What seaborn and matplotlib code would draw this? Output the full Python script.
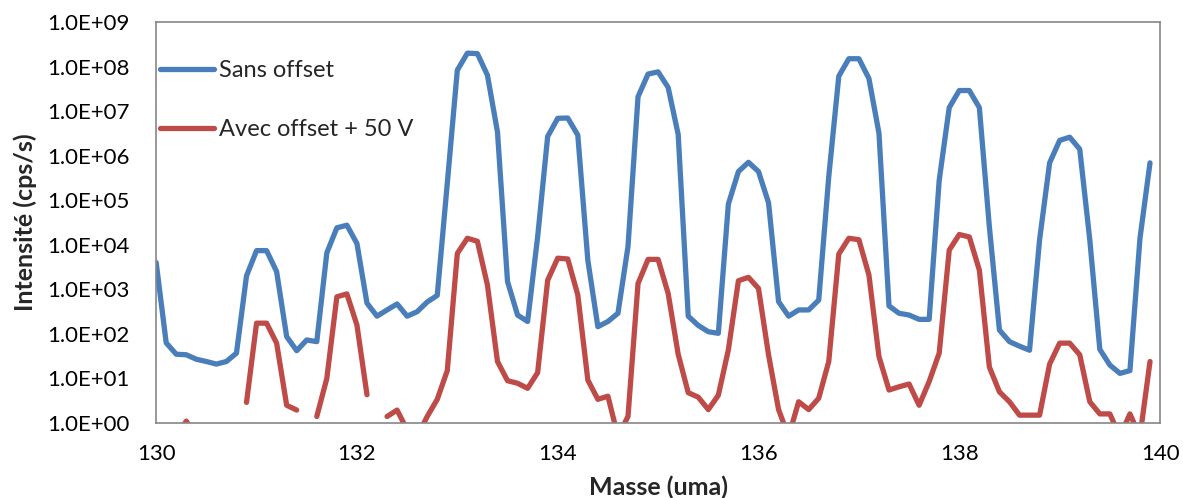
import numpy as np
import pandas as pd
import seaborn as sns
import matplotlib
matplotlib.use('Agg')
import matplotlib.pyplot as plt
from matplotlib.ticker import FuncFormatter, NullLocator

# masses (uma), pas de 0.1
masse = [130.0, 130.1, 130.2, 130.3, 130.4, 130.5, 130.6, 130.7, 130.8, 130.9,
         131.0, 131.1, 131.2, 131.3, 131.4, 131.5, 131.6, 131.7, 131.8, 131.9,
         132.0, 132.1, 132.2, 132.3, 132.4, 132.5, 132.6, 132.7, 132.8, 132.9,
         133.0, 133.1, 133.2, 133.3, 133.4, 133.5, 133.6, 133.7, 133.8, 133.9,
         134.0, 134.1, 134.2, 134.3, 134.4, 134.5, 134.6, 134.7, 134.8, 134.9,
         135.0, 135.1, 135.2, 135.3, 135.4, 135.5, 135.6, 135.7, 135.8, 135.9,
         136.0, 136.1, 136.2, 136.3, 136.4, 136.5, 136.6, 136.7, 136.8, 136.9,
         137.0, 137.1, 137.2, 137.3, 137.4, 137.5, 137.6, 137.7, 137.8, 137.9,
         138.0, 138.1, 138.2, 138.3, 138.4, 138.5, 138.6, 138.7, 138.8, 138.9,
         139.0, 139.1, 139.2, 139.3, 139.4, 139.5, 139.6, 139.7, 139.8, 139.9]

# intensite sans offset (cps/s)
sans_offset = [4.0e3, 63, 35, 34, 27, 24, 21, 24, 37, 2.0e3,
               7.4e3, 7.4e3, 2.5e3, 87, 42, 73, 67, 6.6e3, 2.4e4, 2.75e4,
               1.07e4, 490, 250, 345, 470, 250, 315, 520, 730, 2.4e5,
               8.3e7, 2.0e8, 1.95e8, 6.4e7, 3.4e6, 1.5e3, 265, 190, 1.5e4, 2.7e6,
               6.9e6, 7.0e6, 2.9e6, 4.5e3, 145, 190, 290, 9.1e3, 2.1e7, 6.8e7,
               7.6e7, 3.4e7, 3.0e6, 250, 155, 112, 103, 8.2e4, 4.4e5, 7.1e5,
               4.4e5, 8.8e4, 530, 250, 345, 345, 575, 3.4e5, 6.1e7, 1.5e8,
               1.5e8, 5.4e7, 3.2e6, 425, 290, 265, 212, 212, 2.8e5, 1.2e7,
               2.9e7, 2.9e7, 1.2e7, 2.5e4, 122, 67, 53, 43, 1.3e4, 6.9e5,
               2.2e6, 2.6e6, 1.4e6, 1.3e4, 45, 20, 13, 15, 1.4e4, 6.9e5]

# intensite avec offset + 50 V (nan = pas de valeur)
avec_offset = [np.nan, np.nan, 0.5, 1.1, 0.5, np.nan, np.nan, np.nan, np.nan, 2.9,
               174, 174, 62, 2.5, 1.95, np.nan, 1.4, 10, 680, 790,
               158, 4.3, np.nan, 1.4, 1.95, 0.7, 0.5, 1.4, 3.4, 15,
               6.4e3, 1.4e4, 1.2e4, 1250, 24, 8.9, 7.8, 6.0, 13.5, 1600,
               5.0e3, 4.8e3, 750, 9.2, 3.4, 4.0, 0.5, 1.4, 1350, 4.7e3,
               4.7e3, 810, 35, 4.8, 3.8, 2.0, 4.2, 44, 1560, 1860,
               1050, 34, 2.0, 0.5, 3.0, 2.0, 3.6, 24, 6.2e3, 1.4e4,
               1.3e4, 2100, 31, 5.5, 6.5, 7.5, 2.5, 8.5, 37, 7.6e3,
               1.7e4, 1.5e4, 2700, 18, 5.0, 3.0, 1.5, 1.5, 1.5, 21,
               62, 62, 34, 3.0, 1.6, 1.6, 0.5, 1.6, 0.5, 24]

series = ['Sans offset', 'Avec offset + 50 V']
couleurs = {'Sans offset': '#4A7EBB', 'Avec offset + 50 V': '#BE4B48'}
y_ticks = [1e0, 1e1, 1e2, 1e3, 1e4, 1e5, 1e6, 1e7, 1e8, 1e9]
x_ticks = [130, 132, 134, 136, 138, 140]

# tableau long, un segment par morceau continu (pour garder les trous)
frames = []
for nom, vals in zip(series, [sans_offset, avec_offset]):
    d = pd.DataFrame({'Masse': masse, 'Intensité': vals})
    d['Série'] = nom
    d['Segment'] = d['Intensité'].isna().cumsum()
    frames.append(d.dropna())
df = pd.concat(frames, ignore_index=True)

sns.set_style('white')
plt.rcParams['font.family'] = ['Lato', 'DejaVu Sans']
plt.rcParams['lines.solid_joinstyle'] = 'round'
plt.rcParams['lines.solid_capstyle'] = 'round'

gris = '#868686'
fig, ax = plt.subplots(figsize=(11.83, 4.98), dpi=100)
fig.subplots_adjust(left=0.132, right=0.9806, top=0.9558, bottom=0.1506)

sns.lineplot(data=df, x='Masse', y='Intensité', hue='Série', units='Segment',
             estimator=None, palette=couleurs, hue_order=series,
             linewidth=3.8, ax=ax)

ax.set_yscale('log')
ax.set_ylim(1, 1e9)
ax.set_xlim(130, 140)
ax.set_yticks(y_ticks)
ax.set_xticks(x_ticks)
ax.yaxis.set_minor_locator(NullLocator())
ax.yaxis.set_major_formatter(FuncFormatter(lambda v, p: f'{v:.1E}'))

for s in ax.spines.values():
    s.set_color(gris)
    s.set_linewidth(1.2)
ax.tick_params(axis='both', direction='out', length=6, width=1.2, color=gris,
               labelsize=16, labelcolor='black')
ax.tick_params(axis='y', pad=13)
ax.tick_params(axis='x', pad=9)

ax.set_xlabel('Masse (uma)', fontsize=18, fontweight='bold')
ax.set_ylabel('Intensité (cps/s)', fontsize=18, fontweight='bold')
ax.xaxis.set_label_coords(0.5, -0.13)
ax.yaxis.set_label_coords(-0.119, 0.5)

ax.legend(loc='upper left', bbox_to_anchor=(0.004, 0.905), frameon=False,
          fontsize=17, handlelength=2.3, handletextpad=0.2, labelspacing=1.6,
          borderpad=0, borderaxespad=0, title=None)

plt.savefig('out.png', dpi=100)
